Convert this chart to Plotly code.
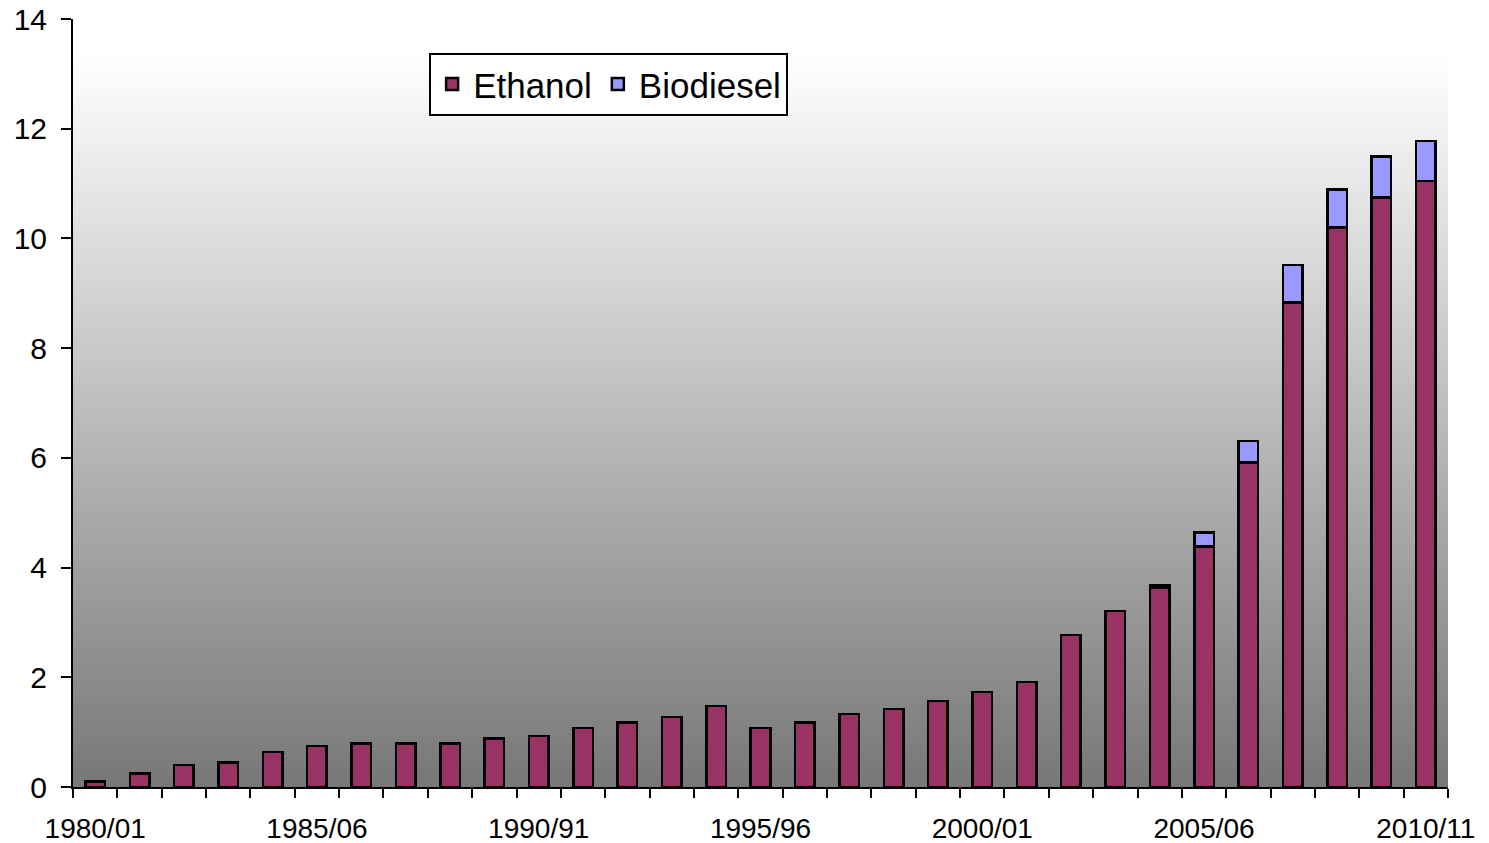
"""Stacked bars: US ethanol and biodiesel production, billion gallons."""

import plotly.graph_objects as go

CATEGORIES = [
    "1980/01", "1981/82", "1982/83", "1983/84", "1984/85", "1985/06", "1986/87",
    "1987/88", "1988/89", "1989/90", "1990/91", "1991/92", "1992/93", "1993/94",
    "1994/95", "1995/96", "1996/97", "1997/98", "1998/99", "1999/00", "2000/01",
    "2001/02", "2002/03", "2003/04", "2004/05", "2005/06", "2006/07", "2007/08",
    "2008/09", "2009/10", "2010/11",
]
ETHANOL = [
    0.10, 0.25, 0.40, 0.45, 0.64, 0.75, 0.79, 0.79, 0.79, 0.88, 0.93, 1.08,
    1.18, 1.28, 1.48, 1.08, 1.18, 1.33, 1.42, 1.57, 1.73, 1.91, 2.77, 3.21,
    3.63, 4.38, 5.92, 8.83, 10.20, 10.75, 11.05,
]
BIODIESEL = [
    0, 0, 0, 0, 0, 0, 0, 0, 0, 0, 0, 0, 0, 0, 0, 0, 0, 0, 0, 0, 0, 0, 0, 0,
    0.04, 0.26, 0.39, 0.69, 0.69, 0.74, 0.73,
]
LABEL_EVERY = 5

ETHANOL_COLOR = "#993366"
BIODIESEL_COLOR = "#9999FF"
FONT = "Arial, Liberation Sans, sans-serif"

idx = list(range(len(CATEGORIES)))

fig = go.Figure()
for name, vals, color in [
    ("Ethanol", ETHANOL, ETHANOL_COLOR),
    ("Biodiesel", BIODIESEL, BIODIESEL_COLOR),
]:
    fig.add_trace(
        go.Bar(
            x=idx,
            y=vals,
            name=name,
            width=0.44,
            marker={"color": color, "line": {"color": "black", "width": 2.5}},
        )
    )

# vertical gray gradient behind the bars (white at top -> #777 at bottom)
top, n = 0.953, 120
shapes = []
for i in range(n):
    f = (i + 0.5) / n
    g = int(round(119 + (255 - 119) * f))
    shapes.append(
        {
            "type": "rect",
            "xref": "paper",
            "yref": "paper",
            "x0": 0,
            "x1": 1,
            "y0": top * i / n,
            "y1": top * (i + 1) / n + 0.001,
            "fillcolor": f"rgb({g},{g},{g})",
            "line": {"width": 0},
            "layer": "below",
        }
    )

fig.update_layout(
    width=1489,
    height=843,
    barmode="stack",
    plot_bgcolor="white",
    paper_bgcolor="white",
    font={"family": FONT, "color": "black", "size": 27},
    margin={"l": 73, "r": 41, "t": 19, "b": 56},
    shapes=shapes,
    xaxis={
        "range": [-0.5, len(CATEGORIES) - 0.5],
        "tickmode": "array",
        "tickvals": idx[::LABEL_EVERY],
        "ticktext": CATEGORIES[::LABEL_EVERY],
        "ticks": "",
        "ticklabelstandoff": 15,
        "automargin": False,
        "showline": True,
        "linecolor": "black",
        "linewidth": 2,
        "showgrid": False,
        "zeroline": False,
        "tickfont": {"size": 28},
        "minor": {
            "tickmode": "linear",
            "tick0": -0.5,
            "dtick": 1,
            "ticks": "outside",
            "ticklen": 9,
            "tickwidth": 2,
            "tickcolor": "black",
            "showgrid": False,
        },
    },
    yaxis={
        "range": [0, 14],
        "dtick": 2,
        "ticks": "outside",
        "ticklen": 10,
        "tickwidth": 2,
        "tickcolor": "black",
        "ticklabelstandoff": 8,
        "automargin": False,
        "showline": True,
        "linecolor": "black",
        "linewidth": 2,
        "showgrid": False,
        "zeroline": False,
        "tickfont": {"size": 30},
    },
    legend={
        "orientation": "h",
        "x": 0.259,
        "y": 0.956,
        "xanchor": "left",
        "yanchor": "top",
        "bgcolor": "white",
        "bordercolor": "black",
        "borderwidth": 2,
        "font": {"size": 35},
        "itemwidth": 32,
        "traceorder": "normal",
    },
    bargap=0.5,
    annotations=[
        {
            "text": "<b>Billion gallons</b>",
            "xref": "paper",
            "yref": "paper",
            "x": -0.03,
            "y": 1.0,
            "yshift": 28,
            "xanchor": "left",
            "yanchor": "bottom",
            "showarrow": False,
            "font": {"size": 26},
        }
    ],
)

fig.write_html(
    "out.html",
    config={"displayModeBar": False},
    post_script="document.body.style.margin='0';",
)
